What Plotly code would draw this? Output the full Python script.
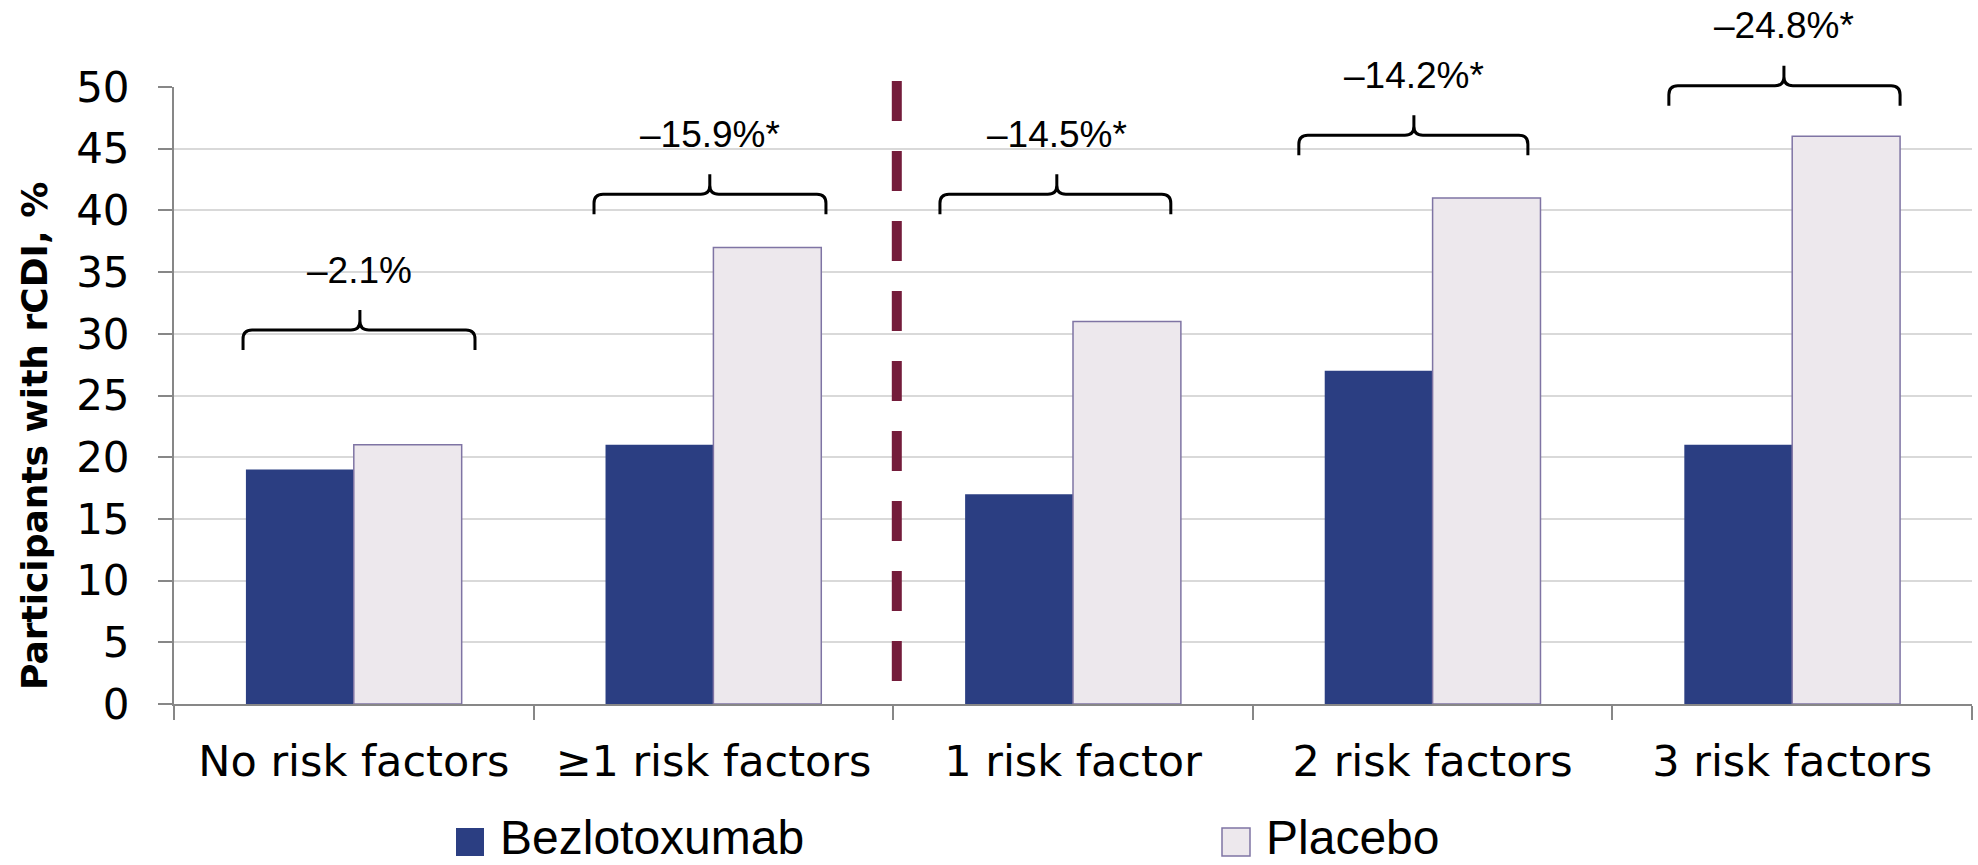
import plotly.graph_objects as go

# ---- data -------------------------------------------------------------
categories = ["No risk factors", "≥1 risk factors", "1 risk factor",
              "2 risk factors", "3 risk factors"]
bezlotoxumab = [19.0, 21.0, 17.0, 27.0, 21.0]
placebo = [21.0, 37.0, 31.0, 41.0, 46.0]
difference_labels = ["–2.1%", "–15.9%*", "–14.5%*", "–14.2%*", "–24.8%*"]
series_names = ["Bezlotoxumab", "Placebo"]
y_ticks = [0, 5, 10, 15, 20, 25, 30, 35, 40, 45, 50]
y_title = "Participants with rCDI, %"

# ---- layout constants ---------------------------------------------------
W, H = 1978, 865
PLOT_L, PLOT_R, PLOT_T, PLOT_B = 174, 1972, 87, 704
Y_MAX = 50
PX_PER_CAT = (PLOT_R - PLOT_L) / len(categories)
PX_PER_PAPER_Y = PLOT_B - PLOT_T

# brace geometry (category-index offsets and y level in axis units)
brace_level = [30.3, 41.3, 41.3, 46.1, 50.1]
brace_left = [-0.308, -0.332, -0.370, -0.372, -0.343]
brace_right = [0.337, 0.313, 0.272, 0.265, 0.300]
brace_tip = [0.017, -0.010, -0.045, -0.052, -0.023]

BEZ_COLOR = "#2B3E82"
PLA_FILL = "#EDE8ED"
PLA_EDGE = "#7F74A4"
GRID = "#D9D9D9"
AXIS = "#878787"
DIVIDER = "#741C3B"

X_TICK_FONT = dict(family="DejaVu Sans", size=43, color="black")
Y_TICK_FONT = dict(family="DejaVu Sans", size=42, color="black")
LABEL_FONT = dict(family="Liberation Sans", size=37, color="black")
LEGEND_FONT = dict(family="Liberation Sans", size=48, color="black")


def paper_y(v):
    return v / Y_MAX


def px_to_paper_x(px):
    return (px - PLOT_L) / (PLOT_R - PLOT_L)


def px_to_paper_y(py):
    return (PLOT_B - py) / PX_PER_PAPER_Y


def brace_path(xl, xr, xt, level):
    """Curly brace opening downward, with its point at xt."""
    y = paper_y(level)
    drop = 20 / PX_PER_PAPER_Y
    rise = 20 / PX_PER_PAPER_Y
    rx = 9 / PX_PER_CAT
    ry = 9 / PX_PER_PAPER_Y
    return (
        f"M{xl},{y - drop} L{xl},{y - ry} Q{xl},{y} {xl + rx},{y} "
        f"L{xt - rx},{y} Q{xt},{y} {xt},{y + ry} L{xt},{y + rise} "
        f"L{xt},{y + ry} Q{xt},{y} {xt + rx},{y} "
        f"L{xr - rx},{y} Q{xr},{y} {xr},{y - ry} L{xr},{y - drop}"
    )


fig = go.Figure()
fig.add_trace(go.Bar(
    x=categories, y=bezlotoxumab, name=series_names[0],
    marker=dict(color=BEZ_COLOR, line=dict(width=0)),
    showlegend=False, hoverinfo="x+y+name",
))
fig.add_trace(go.Bar(
    x=categories, y=placebo, name=series_names[1],
    marker=dict(color=PLA_FILL, line=dict(color=PLA_EDGE, width=1.5)),
    showlegend=False, hoverinfo="x+y+name",
))

shapes = []
annotations = []

# braces with treatment-difference labels
for i, label in enumerate(difference_labels):
    xl = i + brace_left[i]
    xr = i + brace_right[i]
    xt = i + brace_tip[i]
    shapes.append(dict(
        type="path", xref="x", yref="paper",
        path=brace_path(xl, xr, xt, brace_level[i]),
        line=dict(color="black", width=3), layer="above",
    ))
    annotations.append(dict(
        x=xt, y=paper_y(brace_level[i]), xref="x", yref="paper",
        text=label, showarrow=False, font=LABEL_FONT,
        xanchor="center", yanchor="middle", yshift=60,
    ))

# dashed divider between the overall and per-count subgroups
shapes.append(dict(
    type="line", xref="x", yref="paper",
    x0=1.51, x1=1.51,
    y0=px_to_paper_y(681), y1=px_to_paper_y(81),
    line=dict(color=DIVIDER, width=10, dash="40px,30px"),
    layer="above",
))

# legend
legend_items = [(series_names[0], BEZ_COLOR, None, 456),
                (series_names[1], PLA_FILL, PLA_EDGE, 1222)]
for name, fill, edge, left_px in legend_items:
    shapes.append(dict(
        type="rect", xref="paper", yref="paper",
        x0=px_to_paper_x(left_px), x1=px_to_paper_x(left_px + 28),
        y0=px_to_paper_y(856), y1=px_to_paper_y(828),
        fillcolor=fill,
        line=dict(color=edge if edge else fill, width=1.5 if edge else 0),
    ))
    annotations.append(dict(
        x=px_to_paper_x(left_px + 42), y=px_to_paper_y(837),
        xref="paper", yref="paper", text=name, showarrow=False,
        font=LEGEND_FONT, xanchor="left", yanchor="middle",
    ))

# y-axis title
annotations.append(dict(
    x=px_to_paper_x(34), y=px_to_paper_y(436), xref="paper", yref="paper",
    text=f"<b>{y_title}</b>", showarrow=False, textangle=-90,
    font=dict(family="DejaVu Sans", size=36, color="black"),
    xanchor="center", yanchor="middle",
))

fig.update_layout(
    width=W, height=H,
    margin=dict(l=PLOT_L, r=W - PLOT_R, t=PLOT_T, b=H - PLOT_B),
    paper_bgcolor="white", plot_bgcolor="white",
    barmode="group", bargap=0.4, bargroupgap=0,
    showlegend=False,
    shapes=shapes, annotations=annotations,
    xaxis=dict(
        type="category", categoryorder="array", categoryarray=categories,
        tickson="boundaries", ticks="outside", ticklen=14, tickwidth=2,
        tickcolor=AXIS, showline=True, linecolor=AXIS, linewidth=2,
        showgrid=False, tickfont=X_TICK_FONT, ticklabelstandoff=18,
        fixedrange=True,
    ),
    yaxis=dict(
        range=[0, Y_MAX], tickmode="array", tickvals=y_ticks,
        ticks="outside", ticklen=14, tickwidth=2, tickcolor=AXIS,
        showline=True, linecolor=AXIS, linewidth=2,
        showgrid=True, gridcolor=GRID, gridwidth=2, zeroline=False,
        tickfont=Y_TICK_FONT, ticklabelstandoff=20, fixedrange=True,
    ),
)

fig.write_html("out.html")
